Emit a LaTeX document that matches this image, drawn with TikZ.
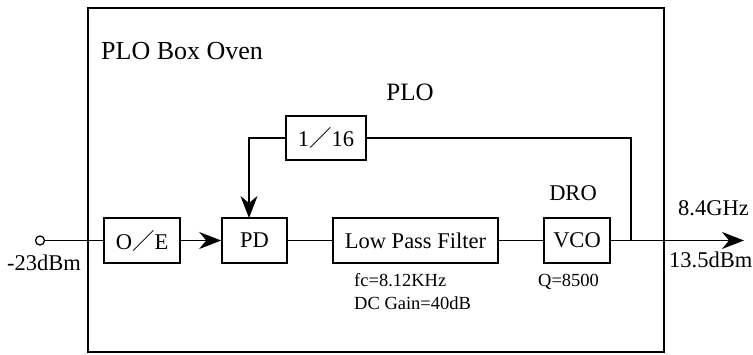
\documentclass[tikz,border=0pt]{standalone}
\usepackage{fontspec}
\setmainfont{Liberation Serif}
\newfontfamily\cjkf{Noto Sans CJK JP}
\usetikzlibrary{arrows.meta}
\newcommand{\fsl}{{\cjkf ／}}
\begin{document}
\begin{tikzpicture}[x=1pt,y=-1pt,
  blk/.style={draw, line width=1.6pt, minimum height=45pt, inner sep=0pt, font=\fontsize{22.5}{26}\selectfont},
  txt/.style={inner sep=0pt, font=\fontsize{22.5}{26}\selectfont},
  sml/.style={inner sep=0pt, font=\fontsize{18.5}{22}\selectfont},
  wire/.style={line width=1.6pt},
  arr/.style={wire, -{Stealth[length=22pt,width=17pt,inset=7pt]}}]
\useasboundingbox (0,0) rectangle (753,354);
% outer oven box
\draw[line width=1.8pt] (88,8) rectangle (664,352);
% blocks
\node[blk, minimum width=76pt] (oe) at (142,240.5) {O\fsl E};
\node[blk, minimum width=65pt] (pd) at (254.5,240.5) {PD};
\node[blk, minimum width=165pt] (lpf) at (415.5,240.5) {Low Pass Filter};
\node[blk, minimum width=66pt] (vco) at (577,240.5) {VCO};
\node[blk, minimum width=80pt, minimum height=44pt] (div) at (326,138) {1\fsl 16};
% terminals
\node[draw, circle, line width=1.3pt, minimum size=9pt, inner sep=0pt] (in) at (40,240.5) {};
\coordinate (fb) at (631,240.5);
\coordinate (out) at (744,240.5);
\coordinate (pdin) at (249,218);
% connectors
\draw[wire] (in) -- (oe);
\draw[arr] (oe) -- (pd);
\draw[wire] (pd) -- (lpf);
\draw[wire] (lpf) -- (vco);
\draw[arr] (vco) -- (out);
\draw[wire] (fb) |- (div.east);
\draw[arr] (div.west) -| (pdin);
% labels
\node[inner sep=0pt, font=\fontsize{26}{30}\selectfont, anchor=base west] (title) at (101,59) {PLO Box Oven};
\node[inner sep=0pt, font=\fontsize{25}{29}\selectfont, anchor=base] (plo) at (410,100) {PLO};
\node[txt, anchor=base] (dro) at (573,200) {DRO};
\node[sml, anchor=base west] (fc) at (354,286) {fc=8.12KHz};
\node[sml, anchor=base west] (gain) at (354,309) {DC Gain=40dB};
\node[sml, anchor=base west] (q) at (538,286) {Q=8500};
\node[txt, anchor=base west] (inlvl) at (7,270) {-23dBm};
\node[txt, anchor=base west] (freq) at (678,215) {8.4GHz};
\node[txt, anchor=base west] (outlvl) at (669,267) {13.5dBm};
\end{tikzpicture}
\end{document}
